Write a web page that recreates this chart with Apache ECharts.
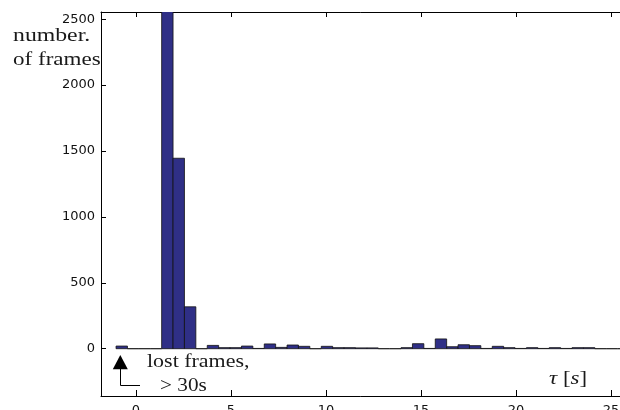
<!DOCTYPE html>
<html><head><meta charset="utf-8">
<script src="https://cdn.jsdelivr.net/npm/echarts@6/dist/echarts.min.js"></script>
<style>html,body{margin:0;padding:0;background:#fff}#c{width:620px;height:410px}</style>
</head><body><div id="c"></div>
<script>
// histogram bin centres (s); bin -0.75 holds the "lost frames, > 30s"
var binCenters = [-0.75, -0.15, 0.45, 1.05, 1.65, 2.25, 2.85, 3.45, 4.05, 4.65,
  5.25, 5.85, 6.45, 7.05, 7.65, 8.25, 8.85, 9.45, 10.05, 10.65,
  11.25, 11.85, 12.45, 13.05, 13.65, 14.25, 14.85, 15.45, 16.05, 16.65,
  17.25, 17.85, 18.45, 19.05, 19.65, 20.25, 20.85, 21.45, 22.05, 22.65,
  23.25, 23.85, 24.45, 25.05, 25.65];
var frameCounts = [20, 0, 0, 0, 2900, 1445, 318, 0, 25, 8,
  8, 20, 2, 36, 10, 28, 18, 0, 18, 8,
  8, 6, 6, 0, 0, 8, 38, 2, 74, 15,
  30, 23, 2, 18, 8, 2, 8, 2, 8, 2,
  8, 8, 0, 0, 0];
var xTicks = [0, 5, 10, 15, 20, 25];
var yTicks = [0, 500, 1000, 1500, 2000, 2500];
var BIN_WIDTH = 0.6;

var BAR_COLOR = '#2f2f86';
var chart = echarts.init(document.getElementById('c'), null, {renderer: 'canvas'});
var data = binCenters.map(function (c, i) { return [c, frameCounts[i]]; });
var plain = function (v) { return String(v); };
var axisFont = {fontFamily: 'DejaVu Sans', fontSize: 13, color: '#111', formatter: plain};
var serif = '"Liberation Serif", "Times New Roman", serif';

chart.setOption({
  animation: false,
  grid: {left: 101, right: -1, top: 12, bottom: 14, containLabel: false, outerBoundsMode: 'none'},
  xAxis: [{
    type: 'value', position: 'bottom', min: -1.842, max: 25.526,
    axisLine: {show: true, onZero: false, lineStyle: {color: '#000', width: 1}},
    axisTick: {show: true, inside: true, length: 6, customValues: xTicks, lineStyle: {color: '#000'}},
    axisLabel: Object.assign({show: true, margin: 8, customValues: xTicks}, axisFont),
    splitLine: {show: false}
  }, {
    type: 'value', position: 'top', min: -1.842, max: 25.526,
    axisLine: {show: true, onZero: false, lineStyle: {color: '#000', width: 1}},
    axisTick: {show: true, inside: true, length: 5, customValues: xTicks, lineStyle: {color: '#000'}},
    axisLabel: {show: false},
    splitLine: {show: false}
  }],
  yAxis: [{
    type: 'value', min: -358.9, max: 2554.6,
    axisLine: {show: true, onZero: false, lineStyle: {color: '#000', width: 1}},
    axisTick: {show: true, inside: true, length: 5, customValues: yTicks, lineStyle: {color: '#000'}},
    axisLabel: Object.assign({show: true, margin: 6, customValues: yTicks}, axisFont),
    splitLine: {show: false}
  }],
  series: [{
    type: 'custom',
    clip: true,
    data: data,
    renderItem: function (params, api) {
      var c = api.value(0), v = api.value(1);
      var p0 = api.coord([c - BIN_WIDTH / 2, 0]);
      var p1 = api.coord([c + BIN_WIDTH / 2, v]);
      return {
        type: 'rect',
        shape: {x: p0[0], y: p1[1], width: p1[0] - p0[0], height: p0[1] - p1[1]},
        style: {fill: BAR_COLOR, stroke: '#111', lineWidth: 0.8}
      };
    }
  }],
  graphic: [
    {type: 'text', x: 13, y: 36, scaleX: 1.32,
      style: {text: 'number.', fontFamily: serif, fontSize: 18, fill: '#1a1a1a', align: 'left', verticalAlign: 'middle'}},
    {type: 'text', x: 13, y: 60, scaleX: 1.28,
      style: {text: 'of frames', fontFamily: serif, fontSize: 18, fill: '#1a1a1a', align: 'left', verticalAlign: 'middle'}},
    {type: 'text', x: 147, y: 362.5, scaleX: 1.22,
      style: {text: 'lost frames,', fontFamily: serif, fontSize: 18, fill: '#1a1a1a', align: 'left', verticalAlign: 'middle'}},
    {type: 'text', x: 160, y: 386, scaleX: 1.18,
      style: {text: '> 30s', fontFamily: serif, fontSize: 18, fill: '#1a1a1a', align: 'left', verticalAlign: 'middle'}},
    {type: 'text', x: 549, y: 379, scaleX: 1.27,
      style: {text: '{i|τ} [{i|s}]', fontFamily: serif, fontSize: 18, fill: '#1a1a1a', align: 'left', verticalAlign: 'middle',
        rich: {i: {fontFamily: serif, fontSize: 18, fontStyle: 'italic', fill: '#1a1a1a'}}}},
    {type: 'polygon', shape: {points: [[120.3, 355], [112.8, 369.3], [127.8, 369.3]]}, style: {fill: '#000'}},
    {type: 'polyline', shape: {points: [[120.5, 369], [120.5, 385.5], [140, 385.5]]}, style: {stroke: '#000', lineWidth: 1, fill: null}}
  ]
});
</script></body></html>
